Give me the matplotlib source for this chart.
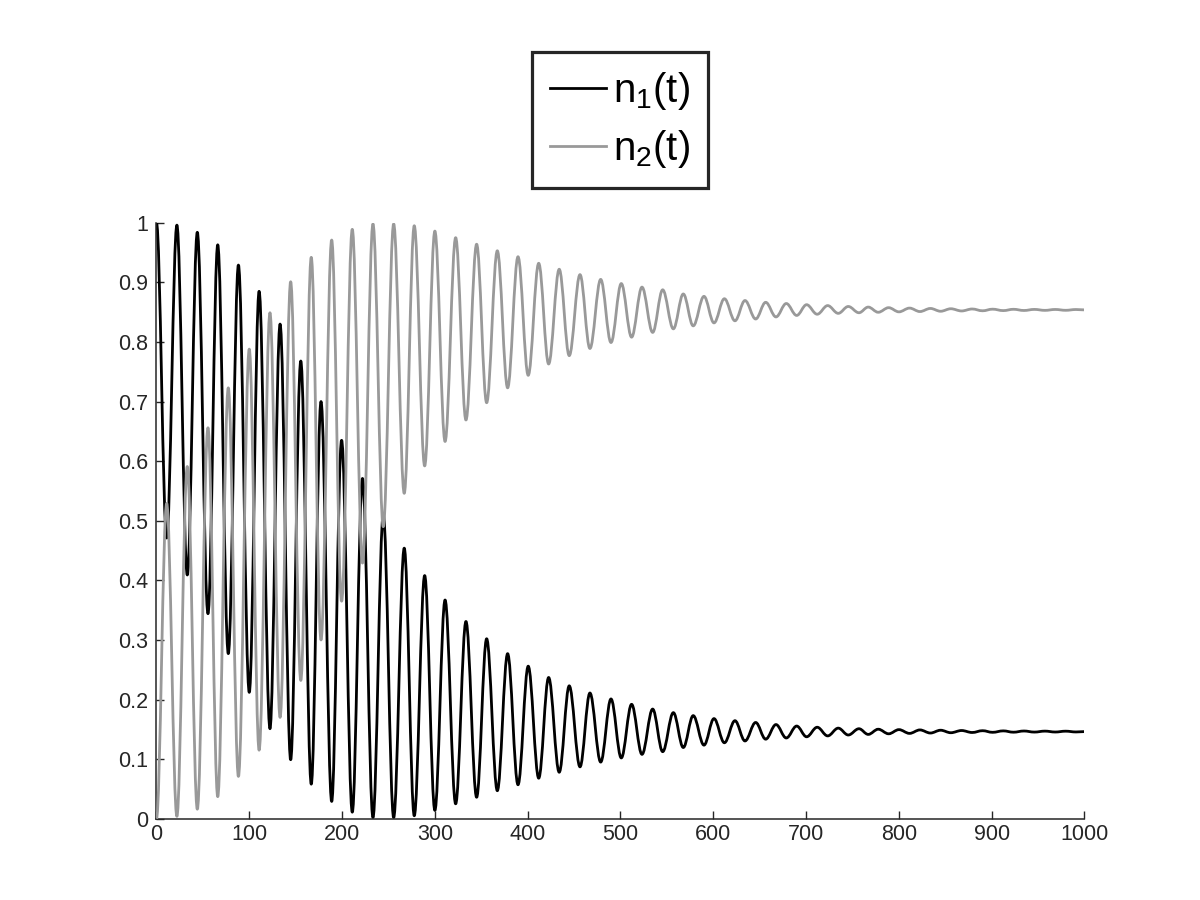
import matplotlib
matplotlib.use("Agg")
import matplotlib.pyplot as plt
from matplotlib.path import Path
from matplotlib.patches import PathPatch
from matplotlib.lines import Line2D

# ---- data (times and values of the extrema) ----
t_ext = [0, 11, 22, 33.2, 44, 55.5, 66, 77.4, 88.3, 100, 110.6, 122.3, 133.2, 144.6,
         155.5, 166.8, 177.3, 188.8, 199.5, 211, 222, 233.3, 244.4, 255.6, 267, 277.8,
         289, 300, 311, 322.4, 333.5, 345, 355.8, 367.3, 378.4, 389.6, 400.6, 411.9,
         422.6, 434, 444.8, 456.4, 467.1, 478.7, 489.8, 500.9, 512, 523.2, 534.7, 545.5,
         557, 567.7, 578.4, 590, 600.8, 612, 623.4, 634.2, 645.7, 656.5, 667.6, 678.7,
         689.9, 700.6, 712, 723.3, 734.7, 745.5, 757, 767, 777.8, 789, 800.1, 811.5,
         822.7, 834, 845, 856, 867.6, 879, 890.2, 901, 912.5, 923.5, 934.8, 946, 957.4,
         968.5, 979.7, 990.8, 1000]

n1_ext = [1.000, 0.471, 0.996, 0.409, 0.984, 0.344, 0.963, 0.277, 0.929, 0.212,
          0.885, 0.151, 0.830, 0.099, 0.768, 0.058, 0.700, 0.029, 0.635, 0.011,
          0.571, 0.002, 0.510, 0.002, 0.454, 0.005, 0.408, 0.014, 0.367, 0.025,
          0.331, 0.036, 0.302, 0.047, 0.277, 0.057, 0.256, 0.068, 0.237, 0.078,
          0.223, 0.087, 0.211, 0.095, 0.201, 0.102, 0.192, 0.108, 0.184, 0.1125,
          0.178, 0.1195, 0.173, 0.1235, 0.168, 0.1275, 0.1645, 0.1305, 0.1615, 0.1335,
          0.158, 0.1355, 0.1555, 0.1375, 0.1535, 0.139, 0.152, 0.1405, 0.151, 0.1415,
          0.1502, 0.1425, 0.1495, 0.1432, 0.149, 0.1438, 0.1485, 0.1443, 0.148, 0.1447,
          0.1477, 0.145, 0.1474, 0.1452, 0.1472, 0.1454, 0.147, 0.1455, 0.1469, 0.1456,
          0.1462]

n2_ext = [0.000, 0.529, 0.004, 0.591, 0.016, 0.656, 0.037, 0.723, 0.071, 0.788,
          0.115, 0.849, 0.170, 0.901, 0.232, 0.942, 0.300, 0.971, 0.365, 0.989,
          0.429, 0.998, 0.490, 0.998, 0.546, 0.995, 0.592, 0.986, 0.633, 0.975,
          0.669, 0.964, 0.698, 0.953, 0.723, 0.943, 0.744, 0.932, 0.763, 0.922,
          0.777, 0.913, 0.789, 0.905, 0.799, 0.898, 0.808, 0.892, 0.816, 0.8875,
          0.822, 0.8805, 0.827, 0.8765, 0.832, 0.8725, 0.8355, 0.8695, 0.8385, 0.8665,
          0.842, 0.8645, 0.8445, 0.8625, 0.8465, 0.861, 0.848, 0.8595, 0.849, 0.8585,
          0.8498, 0.8575, 0.8505, 0.8568, 0.851, 0.8562, 0.8515, 0.8557, 0.852, 0.8553,
          0.8523, 0.855, 0.8526, 0.8548, 0.8528, 0.8546, 0.853, 0.8545, 0.8531, 0.8544,
          0.8538]

series_labels = [r"n$_1$(t)", r"n$_2$(t)"]
series_colors = ["#000000", "#999999"]

x_ticks = [0, 100, 200, 300, 400, 500, 600, 700, 800, 900, 1000]
x_tick_labels = ["0", "100", "200", "300", "400", "500", "600", "700", "800", "900", "1000"]
y_ticks = [0, 0.1, 0.2, 0.3, 0.4, 0.5, 0.6, 0.7, 0.8, 0.9, 1.0]
y_tick_labels = ["0", "0.1", "0.2", "0.3", "0.4", "0.5", "0.6", "0.7", "0.8", "0.9", "1"]

assert len(t_ext) == len(n1_ext) == len(n2_ext)

plt.rcParams["font.family"] = ["Liberation Sans", "DejaVu Sans"]
plt.rcParams["mathtext.fontset"] = "custom"
plt.rcParams["mathtext.rm"] = "Liberation Sans"
plt.rcParams["mathtext.it"] = "Liberation Sans"
plt.rcParams["mathtext.default"] = "regular"

fig = plt.figure(figsize=(12, 9), dpi=100)
ax = fig.add_axes([0.1304, 0.0903, 0.7733, 0.6622])


def smooth_path(ts, vs):
    """Cubic Bezier segments between successive extrema (flat tangents)."""
    a = 0.3634
    verts = [(ts[0], vs[0])]
    codes = [Path.MOVETO]
    for i in range(len(ts) - 1):
        dt = ts[i + 1] - ts[i]
        verts += [(ts[i] + a * dt, vs[i]), (ts[i + 1] - a * dt, vs[i + 1]),
                  (ts[i + 1], vs[i + 1])]
        codes += [Path.CURVE4] * 3
    return Path(verts, codes)


for vals, col, z in [(n1_ext, series_colors[0], 2), (n2_ext, series_colors[1], 3)]:
    patch = PathPatch(smooth_path(t_ext, vals), facecolor="none", edgecolor=col,
                      lw=2.0, zorder=z, joinstyle="round", capstyle="butt")
    ax.add_patch(patch)

ax.set_xlim(0, 1000)
ax.set_ylim(0, 1)
ax.set_xticks(x_ticks)
ax.set_xticklabels(x_tick_labels)
ax.set_yticks(y_ticks)
ax.set_yticklabels(y_tick_labels)

for s in ["top", "right"]:
    ax.spines[s].set_visible(False)
for s in ["left", "bottom"]:
    ax.spines[s].set_color("#262626")
    ax.spines[s].set_linewidth(1.1)
ax.tick_params(direction="in", length=6, width=1.0, color="#262626",
               labelcolor="#262626", labelsize=15.5, pad=4)
ax.tick_params(axis="y", pad=6)

handles = [Line2D([], [], color=series_colors[0], lw=2.0),
           Line2D([], [], color=series_colors[1], lw=2.0)]
leg = fig.legend(handles, series_labels, loc="upper center",
                 bbox_to_anchor=(0.5165, 0.942), bbox_transform=fig.transFigure,
                 fontsize=29, frameon=True, fancybox=False, framealpha=1,
                 edgecolor="#262626", handlelength=1.4, handletextpad=0.15,
                 borderpad=0.45, labelspacing=0.38, borderaxespad=0)
leg.get_frame().set_linewidth(2.3)

fig.savefig("out.png", dpi=100)
